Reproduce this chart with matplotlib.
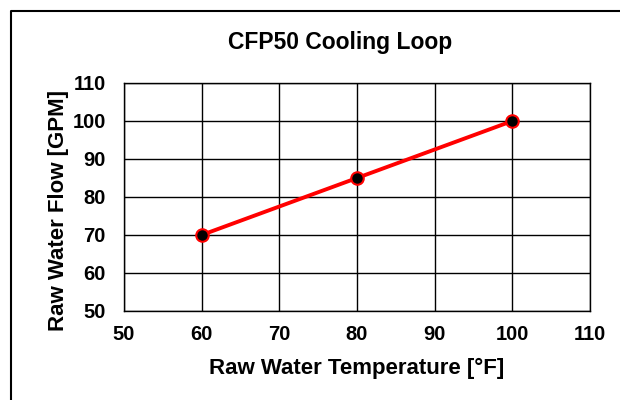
import matplotlib
matplotlib.use("Agg")
import matplotlib.pyplot as plt
from matplotlib.lines import Line2D

temps = [60, 80, 100]
flows = [70, 85, 100]
xticks = [50, 60, 70, 80, 90, 100, 110]
yticks = [50, 60, 70, 80, 90, 100, 110]

plt.rcParams['font.family'] = ['Liberation Sans', 'DejaVu Sans']
plt.rcParams['font.weight'] = 'bold'

fig = plt.figure(figsize=(6.2, 4.0), dpi=100)
W, H = 620, 400
ax = fig.add_axes([124 / W, 1 - 311 / H, (590 - 124) / W, (311 - 83) / H])

# outer frame (left and top edges visible)
fig.lines.append(Line2D([11 / W, 11 / W, 1.0], [0.0, 1 - 11 / H, 1 - 11 / H],
                        transform=fig.transFigure, color='black', linewidth=1.5))

ax.plot(temps, flows, color='#ff0000', linewidth=2.8, marker='o',
        markersize=9, markerfacecolor='black', markeredgecolor='#ff0000',
        markeredgewidth=1.5, zorder=3)

ax.set_xlim(50, 110)
ax.set_ylim(50, 110)
ax.set_xticks(xticks)
ax.set_yticks(yticks)
ax.grid(True, color='black', linewidth=1.0)
ax.tick_params(axis='x', length=0, labelsize=14.5, pad=10)
ax.tick_params(axis='y', length=0, labelsize=14.5, pad=13)
for lab in ax.get_xticklabels() + ax.get_yticklabels():
    lab.set_fontweight('bold')
for s in ax.spines.values():
    s.set_linewidth(1.0)
    s.set_color('black')

ax.set_xlabel('Raw Water Temperature [°F]', fontsize=16, fontweight='bold', labelpad=10)
ax.set_ylabel('Raw Water Flow [GPM]', fontsize=16, fontweight='bold')
ax.yaxis.set_label_coords(-0.118, 0.44)
fig.text(340 / W, 1 - 43 / H, 'CFP50 Cooling Loop', ha='center', va='center',
         fontsize=16.5, fontweight='bold')

fig.savefig('out.png', dpi=100)
